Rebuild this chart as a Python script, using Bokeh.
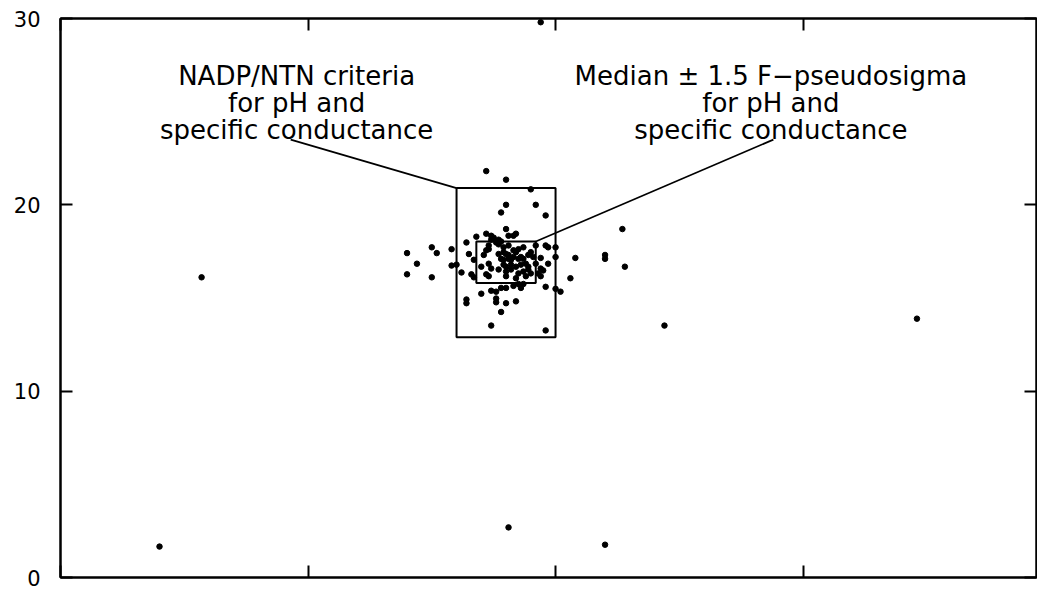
from bokeh.plotting import figure
from bokeh.models import LinearAxis, Label, Range1d, FixedTicker
from bokeh.embed import file_html
from bokeh.resources import INLINE

# ---- data -------------------------------------------------------------
x_vals = [0.40, 0.57, 1.81, 2.20, 2.44, 3.46, 1.94,
          1.40, 1.40, 1.44, 1.50, 1.52, 1.50, 1.58, 1.58, 1.60, 1.62, 1.64, 1.64, 1.64,
          1.72, 1.80, 1.90, 1.80, 1.92, 1.78, 1.96, 1.80, 1.84, 1.83, 1.68, 1.74, 1.75,
          1.77, 1.78, 1.96,
          2.00, 2.00, 2.00, 2.02, 2.08, 2.20, 2.20, 2.27, 2.28, 2.06,
          1.70, 1.76, 1.76, 1.76, 1.80, 1.84, 1.78, 1.74, 1.96, 1.96, 1.94, 1.94, 1.95,
          1.94, 1.66, 1.67, 1.65, 1.67, 1.80, 1.83, 1.85, 1.86, 1.87, 1.74, 1.78,
          1.72, 1.74, 1.73, 1.73, 1.72, 1.71, 1.73, 1.70, 1.74, 1.72, 1.76, 1.77, 1.79,
          1.81, 1.81, 1.79, 1.80, 1.81, 1.83, 1.84, 1.85, 1.87, 1.78, 1.79, 1.81, 1.82,
          1.83, 1.85, 1.86, 1.87, 1.89, 1.79, 1.80, 1.82, 1.84, 1.86, 1.88, 1.89, 1.77,
          1.80, 1.82, 1.85, 1.87, 1.89, 1.90, 1.80, 1.84, 1.88, 1.92, 1.91, 1.92, 1.93,
          1.97, 1.97, 1.73, 1.77, 1.90]
y_vals = [1.66, 16.11, 2.69, 1.76, 13.52, 13.89, 29.80,
          17.41, 16.27, 16.84, 17.72, 17.41, 16.11, 17.62, 16.74, 16.79, 16.37, 17.98, 14.92, 14.72,
          21.81, 21.35, 20.83, 20.00, 20.00, 19.59, 19.43, 18.70, 18.45, 18.34, 18.29, 18.34, 18.24,
          18.13, 18.03, 17.82,
          17.72, 17.20, 15.49, 15.34, 17.15, 17.31, 17.10, 18.70, 16.68, 16.06,
          15.23, 15.34, 14.97, 14.77, 14.72, 14.82, 14.25, 13.52, 13.26, 15.60, 17.15, 16.58, 16.48,
          16.17, 16.27, 17.05, 17.36, 16.11, 15.54, 15.65, 15.75, 15.54, 15.75, 15.39, 15.54,
          18.45, 18.13, 17.82, 17.62, 17.56, 17.31, 16.84, 16.68, 16.58, 16.27, 17.98, 17.88, 17.72,
          17.82, 18.34, 17.46, 17.36, 17.31, 17.56, 17.46, 17.62, 17.72, 17.10, 17.05, 17.10, 17.05,
          17.20, 17.10, 17.20, 17.10, 17.31, 16.79, 16.68, 16.79, 16.68, 16.79, 16.84, 16.68, 16.53,
          16.42, 16.53, 16.32, 16.42, 16.53, 16.32, 16.17, 16.06, 16.17, 17.82, 17.20, 16.84, 16.32,
          17.72, 16.84, 16.17, 17.36, 17.46]

# NADP/NTN criteria box and median +/- 1.5 F-pseudosigma box
box_left = [1.60, 1.68]
box_right = [2.00, 1.92]
box_bottom = [12.9, 15.8]
box_top = [20.9, 18.03]

# leader lines: from text to box corner
lead_x0 = [0.93, 2.88]
lead_y0 = [23.5, 23.5]
lead_x1 = [1.60, 1.92]
lead_y1 = [20.9, 18.03]

text1 = ["NADP/NTN criteria", "for pH and", "specific conductance"]
text2 = ["Median \u00b1 1.5 F\u2212pseudosigma", "for pH and", "specific conductance"]
text1_x = 0.954
text2_x = 2.87
text_y = [26.89, 25.49, 24.04]

y_ticks = [0, 10, 20, 30]
x_ticks = [0, 1, 2, 3, 4]

FONT = "DejaVu Sans"

p = figure(width=1037, height=592, output_backend="svg", toolbar_location=None,
           x_range=Range1d(0, 3.943), y_range=Range1d(0, 30),
           x_axis_location=None, y_axis_location=None,
           min_border_left=60, min_border_right=1, min_border_top=18, min_border_bottom=15)
p.grid.visible = False
p.background_fill_color = "white"
p.border_fill_color = "white"
p.outline_line_color = "black"
p.outline_line_width = 2


def make_axis(ticks, labels):
    ax = LinearAxis(ticker=FixedTicker(ticks=ticks))
    ax.axis_line_color = "black"
    ax.axis_line_width = 2
    ax.major_tick_in = 12
    ax.major_tick_out = 0
    ax.major_tick_line_width = 2
    ax.minor_tick_line_color = None
    if labels:
        ax.major_label_text_font = FONT
        ax.major_label_text_font_size = "21px"
        ax.major_label_text_color = "black"
        ax.major_label_standoff = 20
    else:
        ax.major_label_text_font_size = "0px"
        ax.major_label_standoff = 0
        ax.major_label_text_color = None
    return ax


p.add_layout(make_axis(y_ticks, True), "left")
p.add_layout(make_axis(y_ticks, False), "right")
p.add_layout(make_axis(x_ticks, False), "below")
p.add_layout(make_axis(x_ticks, False), "above")

p.quad(left=box_left, right=box_right, bottom=box_bottom, top=box_top,
       fill_color=None, line_color="black", line_width=2)
p.segment(x0=lead_x0, y0=lead_y0, x1=lead_x1, y1=lead_y1, line_color="black", line_width=1.8)
p.scatter(x_vals, y_vals, size=5.5, color="black")

for tx, lines in ((text1_x, text1), (text2_x, text2)):
    for ty, t in zip(text_y, lines):
        p.add_layout(Label(x=tx, y=ty, text=t, text_align="center", text_baseline="alphabetic",
                           text_font=FONT, text_font_size="26px", text_color="black"))

open("out.html", "w").write(file_html(p, INLINE))
